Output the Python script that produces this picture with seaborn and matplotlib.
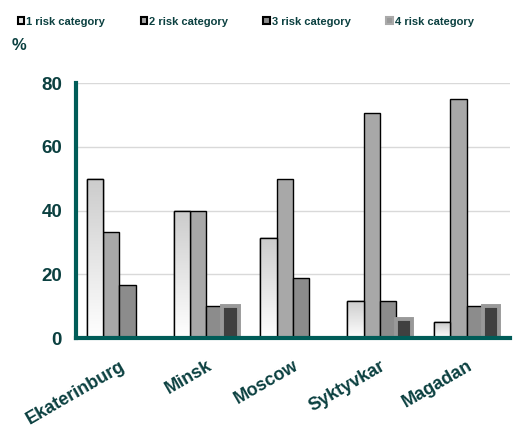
import numpy as np
import pandas as pd
import matplotlib
matplotlib.use('Agg')
import matplotlib.pyplot as plt
import seaborn as sns

# chart values
cities = ['Ekaterinburg', 'Minsk', 'Moscow', 'Syktyvkar', 'Magadan']
categories = ['1 risk category', '2 risk category', '3 risk category', '4 risk category']
cat1 = [50.0, 40.0, 31.3, 11.8, 5.0]
cat2 = [33.3, 40.0, 50.0, 70.6, 75.0]
cat3 = [16.7, 10.0, 18.8, 11.8, 10.0]
cat4 = [np.nan, 10.0, np.nan, 5.9, 10.0]
y_ticks = [0, 20, 40, 60, 80]

rows = []
for cat, vals in zip(categories, [cat1, cat2, cat3, cat4]):
    for city, v in zip(cities, vals):
        rows.append({'city': city, 'category': cat, 'value': v})
df = pd.DataFrame(rows)

sns.set_style('white')
plt.rcParams['font.family'] = ['Liberation Sans', 'DejaVu Sans']

txt = '#0b4040'
axis_col = '#005c58'
fills = ['#e4e4e4', '#a8a8a8', '#8c8c8c', '#404040']

fig = plt.figure(figsize=(5.2, 4.38), dpi=100)
ax = fig.add_axes([0.146, 0.228, 0.835, 0.582])

sns.barplot(data=df, x='city', y='value', hue='category', hue_order=categories,
            palette=fills, width=0.75, ax=ax, legend=False, saturation=1)

# bar outlines
for i, cont in enumerate(ax.containers):
    for p in cont:
        if i == 3:
            p.set_edgecolor('#999999')
            p.set_linewidth(2.8)
        else:
            p.set_edgecolor('black')
            p.set_linewidth(1.0)

# gradient for the first category
grad = np.linspace(0, 1, 100).reshape(-1, 1)
cmap1 = matplotlib.colors.LinearSegmentedColormap.from_list('g', ['#ffffff', '#cccccc'])
for p in ax.containers[0]:
    x0, y0 = p.get_x(), p.get_y()
    w, h = p.get_width(), p.get_height()
    if np.isnan(h) or h == 0:
        continue
    im = ax.imshow(grad, cmap=cmap1, extent=[x0, x0 + w, y0, y0 + h],
                   origin='lower', aspect='auto', zorder=p.get_zorder())
    im.set_clip_path(p)
    ax.add_patch(plt.Rectangle((x0, y0), w, h, fill=False, edgecolor='black', lw=1.0,
                               zorder=p.get_zorder() + 0.1))

ax.set_xlim(-0.5, 4.5)
ax.set_ylim(0, 80)
ax.set_yticks(y_ticks)
ax.yaxis.grid(True, color='#d9d9d9', lw=1)
ax.set_axisbelow(True)

for s in ['top', 'right']:
    ax.spines[s].set_visible(False)
for s in ['left', 'bottom']:
    ax.spines[s].set_color(axis_col)
    ax.spines[s].set_linewidth(3)

ax.set_xticks([i + 0.5 for i in range(-1, 5)], minor=True)
ax.tick_params(axis='x', which='major', length=0, pad=14)
ax.tick_params(axis='x', which='minor', length=4, width=3, color=axis_col, direction='out')
ax.tick_params(axis='y', length=4, width=3, color=axis_col, direction='out', pad=6)
ax.set_xticks(range(len(cities)))
ax.set_xticklabels(cities, rotation=30, ha='right', rotation_mode='anchor',
                   fontsize=13, fontweight='bold', color=txt)
for lab in ax.get_yticklabels():
    lab.set_fontsize(13.5)
    lab.set_fontweight('bold')
    lab.set_color(txt)
ax.set_xlabel('')
ax.set_ylabel('')

fig.text(0.023, 0.885, '%', fontsize=12, fontweight='bold', color=txt)

# legend across the top
handles = [plt.Rectangle((0, 0), 1, 1, facecolor=fills[0], edgecolor='black', lw=1.5),
           plt.Rectangle((0, 0), 1, 1, facecolor=fills[1], edgecolor='black', lw=1.5),
           plt.Rectangle((0, 0), 1, 1, facecolor=fills[2], edgecolor='black', lw=1.5),
           plt.Rectangle((0, 0), 1, 1, facecolor='#999999', edgecolor='#aaaaaa', lw=1.5)]
leg = fig.legend(handles, categories, loc='upper left', bbox_to_anchor=(0.015, 0.985),
                 ncol=4, frameon=False, handlelength=0.6, handleheight=0.6,
                 handletextpad=0.15, columnspacing=3.2,
                 prop={'size': 8, 'weight': 'bold'})
for t in leg.get_texts():
    t.set_color(txt)

fig.savefig('out.png', dpi=100)
